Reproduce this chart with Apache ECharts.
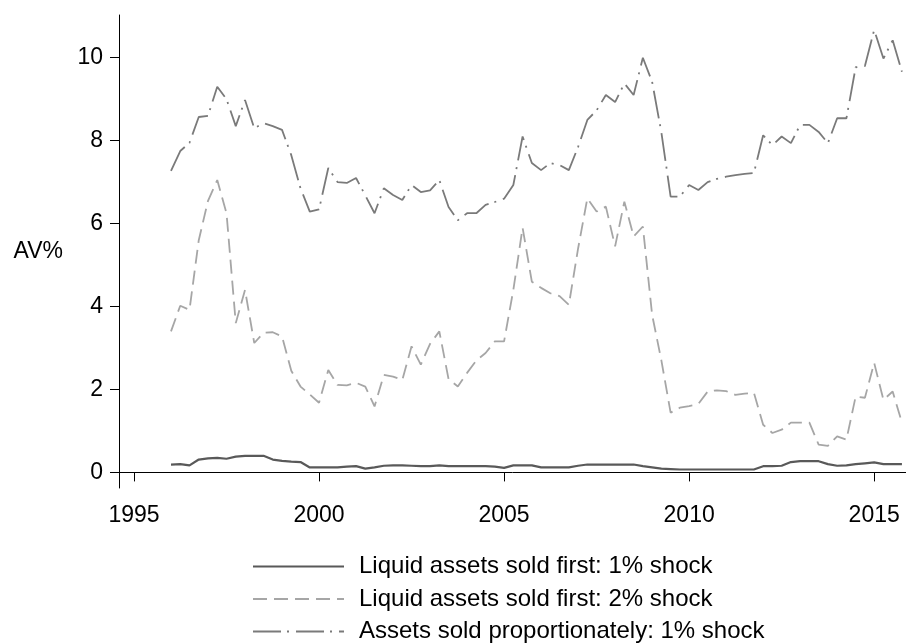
<!DOCTYPE html>
<html>
<head>
<meta charset="utf-8">
<script src="https://cdn.jsdelivr.net/npm/echarts@6/dist/echarts.min.js"></script>
<style>
	html, body { margin: 0; padding: 0; background: #fff; }
	#chart { width: 906px; height: 644px; }
</style>
</head>
<body>
<div id="chart"></div>
<script>
// quarters 1996q1 .. 2015q4
var quarters = [
	'1996q1','1996q2','1996q3','1996q4','1997q1','1997q2','1997q3','1997q4',
	'1998q1','1998q2','1998q3','1998q4','1999q1','1999q2','1999q3','1999q4',
	'2000q1','2000q2','2000q3','2000q4','2001q1','2001q2','2001q3','2001q4',
	'2002q1','2002q2','2002q3','2002q4','2003q1','2003q2','2003q3','2003q4',
	'2004q1','2004q2','2004q3','2004q4','2005q1','2005q2','2005q3','2005q4',
	'2006q1','2006q2','2006q3','2006q4','2007q1','2007q2','2007q3','2007q4',
	'2008q1','2008q2','2008q3','2008q4','2009q1','2009q2','2009q3','2009q4',
	'2010q1','2010q2','2010q3','2010q4','2011q1','2011q2','2011q3','2011q4',
	'2012q1','2012q2','2012q3','2012q4','2013q1','2013q2','2013q3','2013q4',
	'2014q1','2014q2','2014q3','2014q4','2015q1','2015q2','2015q3','2015q4'
];

var liquid1 = [
	0.19, 0.2, 0.17, 0.31, 0.34, 0.35, 0.33, 0.38,
	0.4, 0.4, 0.4, 0.31, 0.28, 0.26, 0.25, 0.12,
	0.12, 0.12, 0.12, 0.14, 0.15, 0.09, 0.12, 0.16,
	0.17, 0.17, 0.16, 0.15, 0.15, 0.17, 0.15, 0.15,
	0.15, 0.15, 0.15, 0.14, 0.11, 0.17, 0.17, 0.17,
	0.12, 0.12, 0.12, 0.12, 0.16, 0.19, 0.19, 0.19,
	0.19, 0.19, 0.19, 0.15, 0.12, 0.09, 0.08, 0.07,
	0.07, 0.07, 0.07, 0.07, 0.07, 0.07, 0.07, 0.07,
	0.15, 0.15, 0.16, 0.25, 0.27, 0.27, 0.27, 0.2,
	0.16, 0.17, 0.2, 0.22, 0.24, 0.2, 0.2, 0.2
];

var liquid2 = [
	3.4, 4.02, 3.92, 5.6, 6.55, 7.05, 6.25, 3.6,
	4.4, 3.12, 3.37, 3.38, 3.28, 2.45, 2.07, 1.88,
	1.68, 2.47, 2.11, 2.1, 2.16, 2.07, 1.59, 2.35,
	2.31, 2.23, 3.04, 2.6, 3.1, 3.4, 2.25, 2.07,
	2.4, 2.7, 2.88, 3.16, 3.16, 4.4, 5.9, 4.6,
	4.45, 4.32, 4.25, 4.04, 5.4, 6.61, 6.29, 6.41,
	5.45, 6.53, 5.69, 5.93, 3.8, 2.7, 1.44, 1.56,
	1.6, 1.65, 1.95, 1.98, 1.96, 1.87, 1.9, 1.92,
	1.15, 0.95, 1.03, 1.2, 1.2, 1.2, 0.67, 0.64,
	0.87, 0.79, 1.83, 1.8, 2.64, 1.75, 1.95, 1.2
];

var proportional1 = [
	7.27, 7.75, 7.95, 8.57, 8.6, 9.3, 9.0, 8.35,
	8.98, 8.3, 8.42, 8.35, 8.26, 7.65, 6.85, 6.29,
	6.34, 7.34, 7.0, 6.98, 7.1, 6.68, 6.25, 6.85,
	6.69, 6.57, 6.93, 6.76, 6.8, 7.05, 6.4, 6.08,
	6.25, 6.25, 6.45, 6.52, 6.6, 6.93, 8.1, 7.46,
	7.29, 7.46, 7.41, 7.29, 7.85, 8.5, 8.73, 9.1,
	8.93, 9.38, 9.1, 10.0, 9.42, 8.2, 6.65, 6.65,
	6.93, 6.81, 7.0, 7.08, 7.13, 7.17, 7.2, 7.22,
	8.13, 7.89, 8.1, 7.94, 8.38, 8.38, 8.21, 7.94,
	8.54, 8.54, 9.77, 9.8, 10.67, 9.98, 10.42, 9.66
];

var xTicks = [1995, 2000, 2005, 2010, 2015];
var yTicks = [0, 2, 4, 6, 8, 10];
var names = [
	'Liquid assets sold first: 1% shock',
	'Liquid assets sold first: 2% shock',
	'Assets sold proportionately: 1% shock'
];

function qtime(q){
	return parseInt(q.slice(0, 4)) + (parseInt(q.slice(5)) - 1) / 4;
}

function pairs(vals){
	var out = [];
	for (var i = 0; i < vals.length; i++) {
		out.push([qtime(quarters[i]), vals[i]]);
	}
	return out;
}

var font = "'Liberation Sans', Arial, sans-serif";
var chart = echarts.init(document.getElementById('chart'));

var option = {
	animation: false,
	backgroundColor: '#fff',
	grid: { left: 119, right: 0, top: 15, bottom: 156 },
	legend: {
		orient: 'vertical',
		left: 252,
		top: 554,
		height: 90,
		padding: 0,
		itemWidth: 91,
		itemHeight: 14,
		itemGap: 7.5,
		data: names,
		itemStyle: { opacity: 0 },
		textStyle: { fontFamily: font, fontSize: 24, color: '#000', lineHeight: 25, padding: [0, 0, 0, 10] }
	},
	xAxis: {
		type: 'value',
		min: 1994.595,
		max: 2015.86,
		splitLine: { show: false },
		axisLine: { show: true, lineStyle: { color: '#000', width: 1 } },
		axisTick: { show: true, length: 9, customValues: xTicks, lineStyle: { color: '#000' } },
		axisLabel: {
			customValues: xTicks,
			margin: 16,
			fontFamily: font,
			fontSize: 23,
			color: '#000',
			formatter: function(v){ return String(v); }
		}
	},
	yAxis: {
		type: 'value',
		min: -0.376,
		max: 11.03,
		name: 'AV%',
		nameLocation: 'middle',
		nameRotate: 0,
		nameGap: 56,
		nameTextStyle: { fontFamily: font, fontSize: 23, color: '#000' },
		splitLine: { show: false },
		axisLine: { show: true, lineStyle: { color: '#000', width: 1 } },
		axisTick: { show: true, length: 9, customValues: yTicks, lineStyle: { color: '#000' } },
		axisLabel: {
			customValues: yTicks,
			margin: 16,
			fontFamily: font,
			fontSize: 23,
			color: '#000'
		}
	},
	series: [
		{
			name: names[0],
			type: 'line',
			symbol: 'none',
			data: pairs(liquid1),
			lineStyle: { color: '#595959', width: 2.2 },
			itemStyle: { color: '#595959' }
		},
		{
			name: names[1],
			type: 'line',
			symbol: 'none',
			data: pairs(liquid2),
			lineStyle: { color: '#a6a6a6', width: 1.8, type: [14, 7] },
			itemStyle: { color: '#a6a6a6' }
		},
		{
			name: names[2],
			type: 'line',
			symbol: 'none',
			data: pairs(proportional1),
			lineStyle: { color: '#7a7a7a', width: 1.8, type: [28, 6, 2, 7] },
			itemStyle: { color: '#7a7a7a' }
		}
	]
};

chart.setOption(option);
</script>
</body>
</html>
